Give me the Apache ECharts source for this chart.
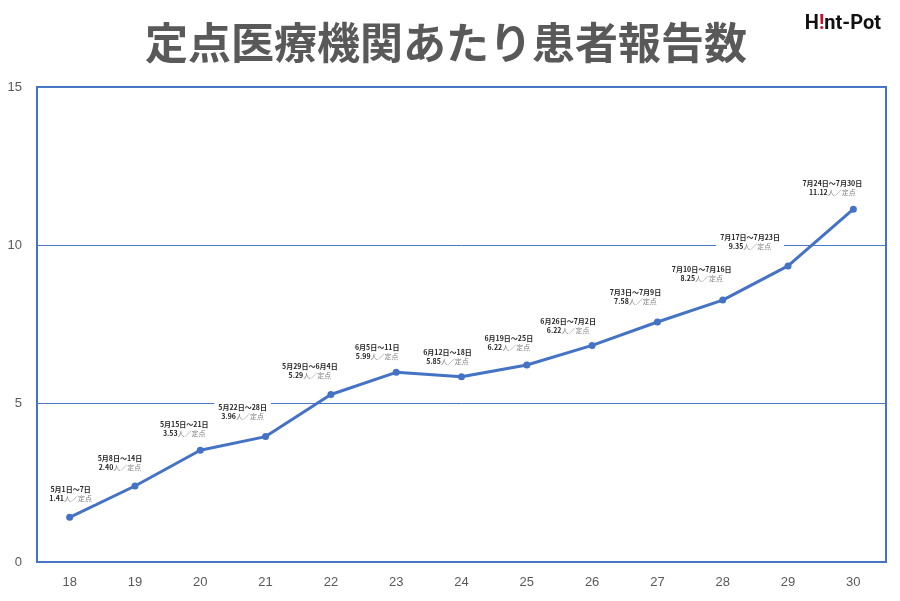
<!DOCTYPE html>
<html><head><meta charset="utf-8">
<script src="https://cdn.jsdelivr.net/npm/echarts@6/dist/echarts.min.js"></script>
<style>html,body{margin:0;padding:0;background:#fff}#c{width:900px;height:601px}</style>
</head><body><div id="c"></div>
<script>
const weeks = ['18','19','20','21','22','23','24','25','26','27','28','29','30'];
const values = [1.41, 2.40, 3.53, 3.96, 5.29, 5.99, 5.85, 6.22, 6.84, 7.58, 8.27, 9.35, 11.14];
const periods = ['5月1日～7日','5月8日～14日','5月15日～21日','5月22日～28日','5月29日～6月4日','6月5日～11日','6月12日～18日','6月19日～25日','6月26日～7月2日','7月3日～7月9日','7月10日～7月16日','7月17日～7月23日','7月24日～7月30日'];
const rateTexts = ['1.41','2.40','3.53','3.96','5.29','5.99','5.85','6.22','6.22','7.58','8.25','9.35','11.12'];
const yTicks = [0, 5, 10, 15];
const labelOffsets = [[1,-24],[-15,-23],[-16,-21],[-23,-25],[-21,-24],[-19,-20],[-14,-20],[-18,-22],[-24,-20],[-22,-25],[-21,-26],[-38,-24],[-21,-21]];

const chart = echarts.init(document.getElementById('c'));
chart.setOption({
  animation: false,
  title: [{
    text: '定点医療機関あたり患者報告数',
    left: 441, top: 16, textAlign: 'center',
    textStyle: {fontSize: 43, fontWeight: 'bold', color: '#595959', fontFamily: 'Noto Sans CJK JP'}
  },{
    text: '{a|H}{b|!}{a|nt-Pot}',
    right: 14, top: 9,
    textStyle: {rich: {
      a: {fontSize: 20, fontWeight: 'bold', color: '#111', fontFamily: 'Roboto'},
      b: {fontSize: 20, fontWeight: 'bold', color: '#c8102e', fontFamily: 'Roboto'}
    }}
  }],
  grid: {left: 37, right: 14, top: 87, bottom: 39, show: true, borderColor: '#4472C4', borderWidth: 2},
  xAxis: {
    type: 'category', data: weeks, boundaryGap: true,
    axisLine: {show: false}, axisTick: {show: false},
    axisLabel: {color: '#595959', fontSize: 13, margin: 14, fontFamily: 'Liberation Sans'}
  },
  yAxis: {
    type: 'value', min: 0, max: 15, interval: 5,
    axisLine: {show: false}, axisTick: {show: false},
    axisLabel: {color: '#595959', fontSize: 13, margin: 15, fontFamily: 'Liberation Sans', verticalAlign: 'middle',
      formatter: v => yTicks.includes(v) ? String(v) : ''},
    splitLine: {lineStyle: {color: '#4a78c8', width: 1}}
  },
  series: [{
    type: 'line',
    data: values.map((v, i) => ({
      value: v,
      label: {offset: labelOffsets[i]}
    })),
    symbol: 'circle', symbolSize: 7,
    lineStyle: {color: '#4472C4', width: 3},
    itemStyle: {color: '#4472C4'},
    label: {
      show: true, position: 'inside',
      backgroundColor: '#fff', padding: [1, 4],
      formatter: p => '{p|' + periods[p.dataIndex] + '}\n{r|' + rateTexts[p.dataIndex] + '}{u|人／定点}',
      rich: {
        p: {fontSize: 7, fontWeight: 'bold', color: '#262626', lineHeight: 9, align: 'center', fontFamily: 'Noto Sans CJK JP'},
        r: {fontSize: 7, fontWeight: 'bold', color: '#262626', lineHeight: 9, fontFamily: 'Noto Sans CJK JP'},
        u: {fontSize: 7, color: '#7f7f7f', lineHeight: 9, fontFamily: 'Noto Sans CJK JP'}
      }
    },
    z: 3
  }]
});
</script></body></html>
